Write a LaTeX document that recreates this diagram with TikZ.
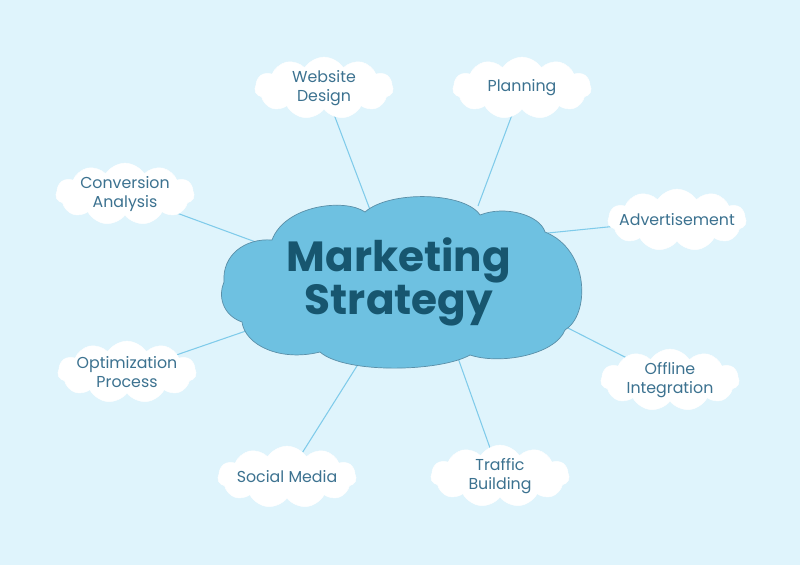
\documentclass[tikz,border=0pt]{standalone}
\usepackage{fontspec}
\setmainfont{Poppins}
\usetikzlibrary{shapes.symbols}
\definecolor{bgc}{HTML}{DFF4FC}
\definecolor{mainfill}{HTML}{6EC1E1}
\definecolor{mainline}{HTML}{5A8FA8}
\definecolor{maintext}{HTML}{17566F}
\definecolor{subtext}{HTML}{3C7290}
\definecolor{linkc}{HTML}{7FCBEA}
\tikzset{
  subcloud/.style={cloud, cloud puffs=11, cloud puff arc=115, aspect=2.3,
    fill=white, draw=white, minimum width=4.15cm, minimum height=1.85cm,
    inner sep=0pt},
  subtxt/.style={align=center, text=subtext, inner sep=0pt, font=\fontsize{13.5}{16}\selectfont},
  link/.style={draw=linkc, line width=0.9pt},
  maintitle/.style={align=center, text=maintext, font=\fontsize{36}{37}\selectfont\bfseries}
}
\begin{document}
\begin{tikzpicture}[x=0.03cm,y=-0.03cm]
\fill[bgc] (0,0) rectangle (800,565);
\useasboundingbox (0,0) rectangle (800,565);
% connector ends on the central cloud
\coordinate (a1) at (372,215);
\coordinate (a2) at (478,206);
\coordinate (a3) at (272,248);
\coordinate (a4) at (538,234);
\coordinate (a5) at (272,322);
\coordinate (a6) at (562,325);
\coordinate (a7) at (362,358);
\coordinate (a8) at (458,358);
% small cloud centres
\coordinate (p1) at (324,88);
\coordinate (p2) at (522,88);
\coordinate (p3) at (125,194);
\coordinate (p4) at (677,220);
\coordinate (p5) at (127,372);
\coordinate (p6) at (670,380);
\coordinate (p7) at (287,477);
\coordinate (p8) at (500,476);
\draw[link] (a1) -- (p1);
\draw[link] (a2) -- (p2);
\draw[link] (a3) -- (p3);
\draw[link] (a4) -- (p4);
\draw[link] (a5) -- (p5);
\draw[link] (a6) -- (p6);
\draw[link] (a7) -- (p7);
\draw[link] (a8) -- (p8);
% central cloud
\path[fill=mainfill, draw=mainline, line width=0.6pt]
  (224,282) .. controls (222,255) and (245,238) .. (272,240)
  .. controls (285,205) and (345,198) .. (365,212)
  .. controls (390,190) and (465,192) .. (480,215)
  .. controls (505,205) and (540,215) .. (545,232)
  .. controls (590,250) and (590,315) .. (565,330)
  .. controls (555,355) and (500,365) .. (470,355)
  .. controls (440,372) and (345,374) .. (320,352)
  .. controls (280,362) and (245,345) .. (242,322)
  .. controls (222,315) and (218,295) .. (224,282) -- cycle;
\node[maintitle] (ms) at (399,282) {Marketing\\Strategy};
% small clouds
\foreach \i in {1,...,8} {\node[subcloud] (n\i) at (p\i) {};}
\node[subtxt] (t1) at (n1.center) {Website\\Design};
\node[subtxt] (t2) at (n2.center) {Planning};
\node[subtxt] (t3) at (n3.center) {Conversion\\Analysis};
\node[subtxt] (t4) at (n4.center) {Advertisement};
\node[subtxt] (t5) at (n5.center) {Optimization\\Process};
\node[subtxt] (t6) at (n6.center) {Offline\\Integration};
\node[subtxt] (t7) at (n7.center) {Social Media};
\node[subtxt] (t8) at (n8.center) {Traffic\\Building};
\end{tikzpicture}
\end{document}
